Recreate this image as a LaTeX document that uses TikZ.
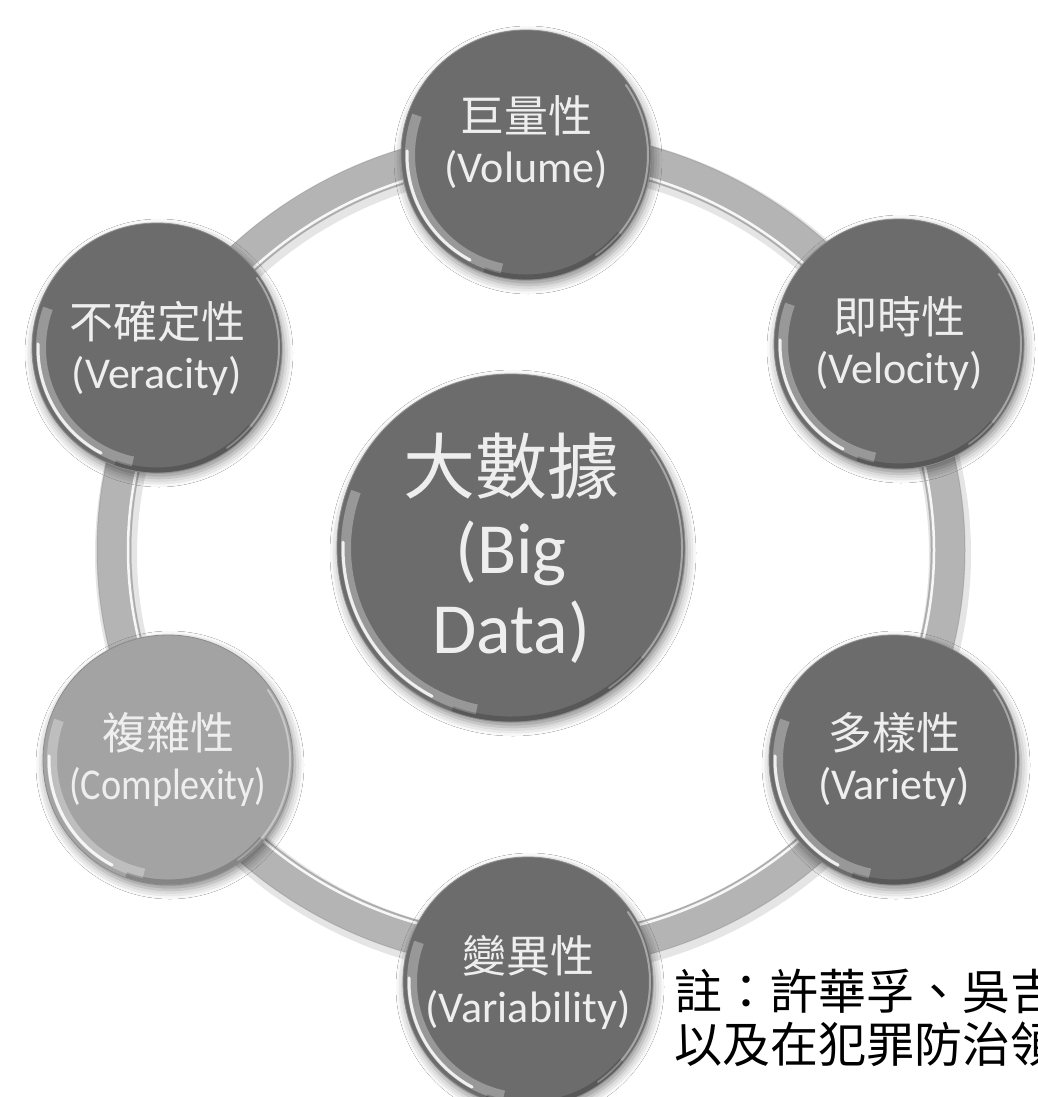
\documentclass[tikz,border=0pt]{standalone}
\usepackage{graphicx}
\usepackage{fontspec}
\setmainfont{Carlito}
\newfontfamily\cjk{Noto Sans CJK TC}
\usetikzlibrary{shadows.blur,calc}
\definecolor{bubdark}{RGB}{108,108,108}
\definecolor{bublight}{RGB}{163,163,163}
\definecolor{ringc}{RGB}{180,180,180}
\definecolor{txt}{RGB}{238,238,238}
\tikzset{
  bub/.style={circle, inner sep=0pt, minimum size=#1, fill=bubdark, draw=black!45, line width=0.8pt,
    text=txt, align=center,
    blur shadow={shadow xshift=2pt, shadow yshift=-5pt, shadow blur radius=9pt, shadow opacity=45},
    font=\fontsize{44}{50}\selectfont},
  bub/.default=250pt,
  bigbub/.style={bub=348pt, font=\fontsize{72}{80}\selectfont},
  lightbub/.style={fill=bublight},
  ringband/.style={draw=ringc, line width=34pt},
  ringshadow/.style={draw=black, opacity=0.10, line width=42pt},
  ringhl/.style={draw=white, opacity=0.9, line width=2.5pt},
  ringedge/.style={draw=black!50, opacity=0.35, line width=1pt},
  note/.style={anchor=base west, align=left, text=black, font=\cjk\fontsize{48}{53}\selectfont},
}
\newcommand\glossy[2]{%
  \draw[white, opacity=.30, line width=10pt] ($(#1.center)+(160:#2-9)$) arc[start angle=160, end angle=258, radius=#2-9];
  \draw[white, opacity=.85, line width=3pt, line cap=round] ($(#1.center)+(178:#2-6)$) arc[start angle=178, end angle=242, radius=#2-6];
  \draw[white, opacity=.4, line width=2pt, line cap=round] ($(#1.center)+(-55:#2-3)$) arc[start angle=-55, end angle=35, radius=#2-3];
  \draw[black, opacity=.18, line width=5pt] ($(#1.center)+(250:#2-3)$) arc[start angle=250, end angle=320, radius=#2-3];
}
\begin{document}
\begin{tikzpicture}[x=1pt,y=1pt]
\useasboundingbox (0,0) rectangle (1038,-1097);
\clip (0,0) rectangle (1038,-1097);
\fill[white] (0,0) rectangle (1038,-1097);
% ring
\coordinate (ringc) at (531,-550);
\draw[ringshadow] ($(ringc)+(2,-4)$) ellipse [x radius=417, y radius=403];
\draw[ringband] (ringc) ellipse [x radius=417, y radius=403];
\draw[ringedge] (ringc) ellipse [x radius=434, y radius=420];
\draw[ringedge] (ringc) ellipse [x radius=400, y radius=386];
\draw[ringhl] (ringc) ellipse [x radius=403, y radius=389];
% bubbles
\node[bub] (vol) at (526,-155) {{\cjk 巨量性}\\(Volume)\\[-18pt]\mbox{}};
\node[bub] (vel) at (899,-344) {{\cjk 即時性}\\(Velocity)};
\node[bub] (var) at (894,-760) {{\cjk 多樣性}\\(Variety)};
\node[bub] (vab) at (528,-982) {{\cjk 變異性}\\(Variability)};
\node[bub, lightbub] (cpx) at (168,-760) {{\cjk 複雜性}\\\scalebox{0.87}[1]{(Complexity)}};
\node[bub] (ver) at (157,-348) {{\cjk 不確定性}\\(Veracity)};
\node[bigbub] (big) at (511,-548) {{\cjk 大數據}\\(Big\\Data)};
\glossy{vol}{125}
\glossy{vel}{125}
\glossy{var}{125}
\glossy{vab}{125}
\glossy{cpx}{125}
\glossy{ver}{125}
\glossy{big}{174}
% note
\node[note] (notetext) at (671,-1062) {註：許華孚、吳吉\\以及在犯罪防治領};
\end{tikzpicture}
\end{document}
